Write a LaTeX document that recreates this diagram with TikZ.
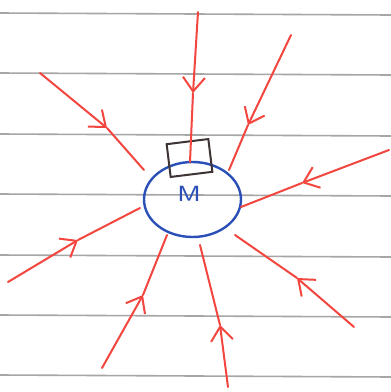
\documentclass[tikz,border=0pt]{standalone}
\usepackage{tikz}
\usetikzlibrary{arrows.meta,shapes.geometric}
\definecolor{Rojo}{HTML}{F2463F}
\definecolor{Azul}{HTML}{2A50B8}
\definecolor{Gris}{HTML}{A6A6A6}
\definecolor{Oscuro}{HTML}{3E3434}

\begin{document}
\begin{tikzpicture}[x=1pt,y=-1pt,>={Straight Barb[length=14pt,width=22pt]},
  ray/.style={draw=Rojo,line width=2pt,line cap=round},
  renglon/.style={draw=Gris,line width=1.6pt}]
\useasboundingbox[fill=white] (0,0) rectangle (391,392);
% lined paper
\foreach \y in {13,73,134,194,255,315,375}
  \draw[renglon] (0,\y) -- (391,\y+2);
% mass and box
\node[ellipse,draw=Azul,line width=2.4pt,minimum width=97pt,minimum height=75pt] (mass) at (192.5,199.5) {};
\node[text=Azul,font=\sffamily\fontsize{22}{22}\selectfont] (mlabel) at (189,194) {\scalebox{1.3}[1]{M}};
\node[draw=Oscuro,line width=2pt,minimum width=42pt,minimum height=33pt,rotate=7] (box) at (189.5,158) {};
% end points of the rays
\coordinate (o1) at (198,12);   \coordinate (a1) at (193,93);  \coordinate (i1) at (190,162);
\coordinate (o2) at (40,73);    \coordinate (a2) at (107,128); \coordinate (i2) at (144,170);
\coordinate (o3) at (291,35);   \coordinate (a3) at (248,125); \coordinate (i3) at (229,170);
\coordinate (o4) at (389,150);  \coordinate (a4) at (302,183); \coordinate (i4) at (241,207);
\coordinate (o5) at (8,282);    \coordinate (a5) at (78,240);  \coordinate (i5) at (140,208);
\coordinate (o6) at (102,368);  \coordinate (a6) at (143,295); \coordinate (i6) at (167,235);
\coordinate (o7) at (228,387);  \coordinate (a7) at (220,325); \coordinate (i7) at (200,245);
\coordinate (o8) at (354,327);  \coordinate (a8) at (297,278); \coordinate (i8) at (235,235);
% rays pointing in
\foreach \k in {1,...,8} {
  \draw[ray,->] (o\k) -- (a\k);
  \draw[ray] (a\k) -- (i\k);
}
\end{tikzpicture}
\end{document}
